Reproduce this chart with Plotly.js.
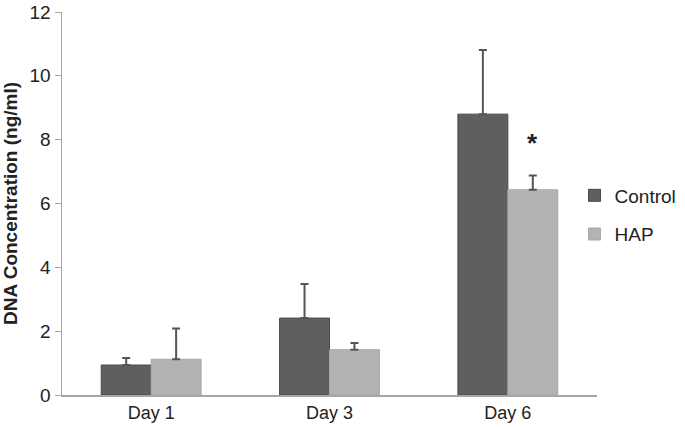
<!DOCTYPE html>
<html>
<head>
<meta charset="utf-8">
<script src="https://cdn.plot.ly/plotly-3.0.1.min.js"></script>
<style>
  html, body { margin: 0; padding: 0; background: #ffffff; }
  #myGraph { width: 685px; height: 429px; }
</style>
</head>
<body>
<div id="myGraph"></div>
<script>
"use strict";

// categories and values
var days = ['Day 1', 'Day 3', 'Day 6'];
var controlMean = [0.94, 2.41, 8.80];
var controlErr = [0.22, 1.07, 2.01];
var hapMean = [1.12, 1.42, 6.43];
var hapErr = [0.96, 0.21, 0.45];
var noErr = [0, 0, 0];

// colors
var controlColor = '#5f5f5f';
var hapColor = '#b3b3b3';
var axisColor = '#a6a6a6';
var textColor = '#222222';

// traces
var control = {
    type: 'bar',
    name: 'Control',
    legendgroup: 'c',
    x: days,
    y: controlMean,
    marker: {color: controlColor, line: {color: '#4a4a4a', width: 1}},
    error_y: {
        type: 'data', symmetric: false,
        array: controlErr, arrayminus: noErr,
        color: '#555555', thickness: 2, width: 4
    }
};
var hap = {
    type: 'bar',
    name: 'HAP',
    legendgroup: 'h',
    x: days,
    y: hapMean,
    marker: {color: hapColor, line: {color: '#a8a8a8', width: 1}},
    error_y: {
        type: 'data', symmetric: false,
        array: hapErr, arrayminus: noErr,
        color: '#555555', thickness: 2, width: 4
    }
};

var layout = {
    width: 685,
    height: 429,
    margin: {l: 62, r: 88, t: 12, b: 34, autoexpand: false},
    paper_bgcolor: '#ffffff',
    plot_bgcolor: '#ffffff',
    font: {family: 'Liberation Sans, Arial, sans-serif', size: 18, color: textColor},
    barmode: 'group',
    bargap: 0.44,
    bargroupgap: 0,
    showlegend: true,
    legend: {
        x: 0.958, xanchor: 'left',
        y: 0.47, yanchor: 'middle',
        bgcolor: 'rgba(0,0,0,0)',
        font: {size: 19, color: textColor},
        itemwidth: 30,
        tracegroupgap: 11
    },
    xaxis: {
        showline: true, linecolor: axisColor, linewidth: 2,
        ticks: '', showgrid: false, zeroline: false,
        automargin: false,
        tickfont: {size: 18}
    },
    yaxis: {
        range: [0, 12], dtick: 2,
        showline: true, linecolor: axisColor, linewidth: 1.5,
        ticks: 'outside', ticklen: 6, tickcolor: axisColor,
        showgrid: false, zeroline: false,
        automargin: false,
        tickfont: {size: 19},
        title: {
            text: '<b>DNA Concentration (ng/ml)</b>',
            font: {size: 19, color: textColor}
        }
    },
    annotations: [{
        x: 'Day 6', y: 7.9, xref: 'x', yref: 'y',
        xshift: 25,
        text: '<b>*</b>',
        showarrow: false,
        font: {size: 26, color: textColor}
    }]
};

Plotly.newPlot('myGraph', [control, hap], layout, {displayModeBar: false, staticPlot: true});
</script>
</body>
</html>
